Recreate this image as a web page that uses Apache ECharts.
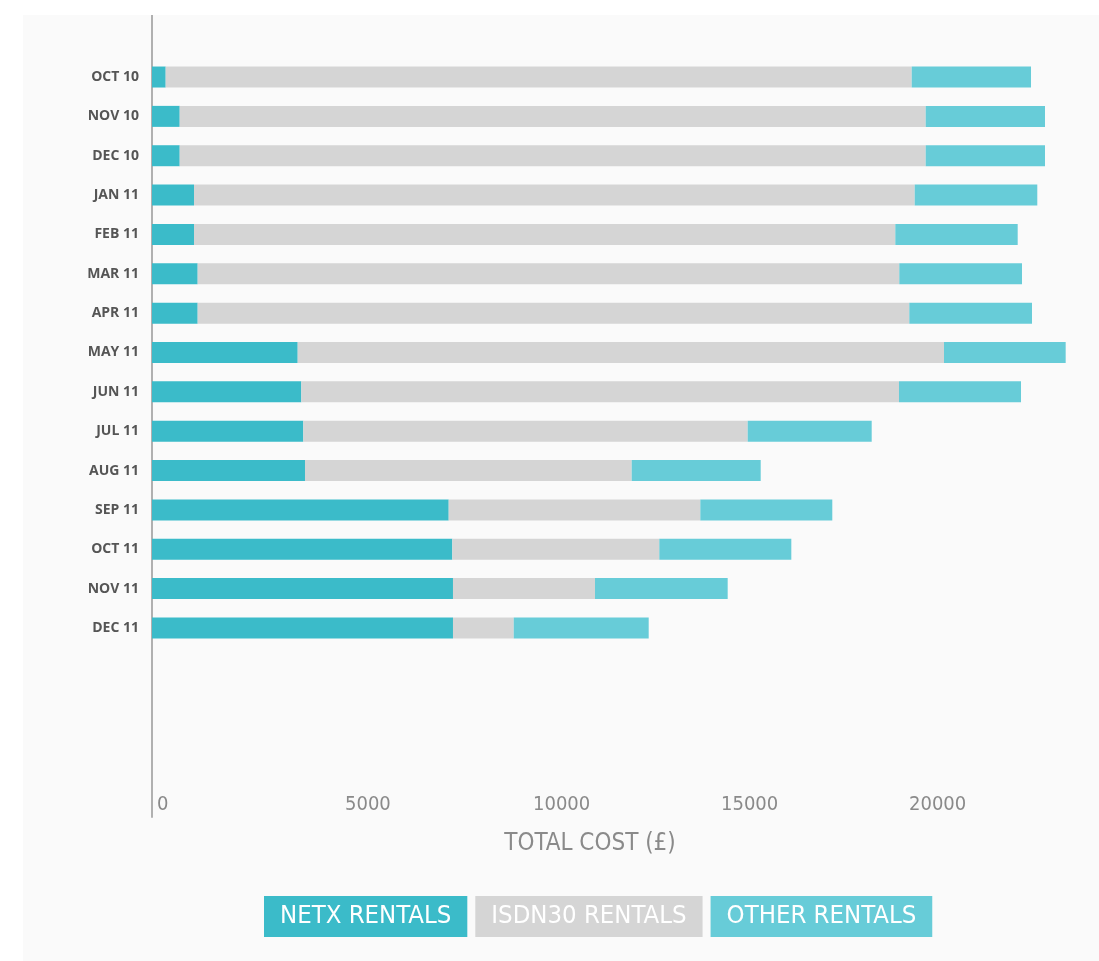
<!DOCTYPE html>
<html>
<head>
<meta charset="utf-8">
<script src="https://cdn.jsdelivr.net/npm/echarts@6/dist/echarts.min.js"></script>
<style>
  html, body { margin: 0; padding: 0; background: #ffffff; }
  #chart { position: absolute; left: 23px; top: 15px; width: 1076px; height: 946px; background: #fafafa; }
</style>
</head>
<body>
<div id="chart"></div>
<script>
const months = ['OCT 10','NOV 10','DEC 10','JAN 11','FEB 11','MAR 11','APR 11','MAY 11','JUN 11','JUL 11','AUG 11','SEP 11','OCT 11','NOV 11','DEC 11'];
const netxRentals  = [364, 737, 737, 1117, 1117, 1215, 1215, 3875, 3971, 4024, 4069, 7891, 7987, 8005, 8005];
const isdn30Rentals = [19841, 19840, 19840, 19168, 18652, 18660, 18926, 17189, 15896, 11819, 8689, 6692, 5505, 3777, 1615];
const otherRentals = [3173, 3173, 3173, 3260, 3255, 3263, 3263, 3236, 3245, 3298, 3431, 3510, 3511, 3529, 3590];
const seriesNames = ['NETX RENTALS', 'ISDN30 RENTALS', 'OTHER RENTALS'];
const colors = ['#3bbbc9', '#d5d5d5', '#67ccd8'];

const chart = echarts.init(document.getElementById('chart'), null, { renderer: 'canvas' });
const narrow = "'DejaVu Sans Condensed', 'Liberation Sans Narrow', 'Roboto Condensed', sans-serif";
const legendData = seriesNames.map((n, i) => ({
  name: n,
  textStyle: {
    backgroundColor: colors[i],
    color: '#ffffff',
    padding: [7, 16, 7, 16],
    fontSize: 25.5,
    lineHeight: 27,
    fontFamily: narrow
  }
}));

chart.setOption({
  animation: false,
  backgroundColor: '#fafafa',
  grid: [
    { left: 129, right: 7, top: 3, height: 787, containLabel: false },
    { left: 129, right: 7, top: 0, height: 802, containLabel: false }
  ],
  xAxis: [{
    type: 'value',
    gridIndex: 0,
    min: 0,
    max: 25000,
    interval: 5000,
    offset: 12,
    axisLine: { show: false },
    axisTick: { show: false },
    splitLine: { show: false },
    axisLabel: {
      inside: true,
      margin: 2,
      align: 'left',
      padding: [0, 0, 0, 5],
      color: '#8a8a8a',
      fontSize: 20,
      fontFamily: narrow,
      showMaxLabel: false,
      formatter: v => String(v)
    },
    name: 'TOTAL COST (£)',
    nameLocation: 'middle',
    nameGap: 15,
    nameTextStyle: {
      color: '#8a8a8a',
      fontSize: 24,
      fontFamily: narrow,
      verticalAlign: 'top',
      padding: [0, 64, 0, 0]
    }
  }, {
    type: 'value',
    gridIndex: 1,
    show: false
  }],
  yAxis: [{
    type: 'category',
    gridIndex: 0,
    data: months,
    inverse: true,
    min: -1,
    max: 18,
    axisLine: { show: false },
    axisTick: { show: false },
    splitLine: { show: false },
    axisLabel: {
      margin: 13,
      color: '#555555',
      fontSize: 14,
      fontWeight: 'bold',
      fontFamily: 'Open Sans',
      formatter: v => (v == null || v === 'undefined') ? '' : v
    }
  }, {
    type: 'value',
    gridIndex: 1,
    axisLine: { show: true, lineStyle: { color: '#b0b0b0', width: 2 } },
    axisTick: { show: false },
    axisLabel: { show: false },
    splitLine: { show: false }
  }],
  legend: {
    left: 231,
    top: 876,
    icon: 'none',
    itemWidth: 0,
    itemHeight: 0,
    itemGap: 3,
    selectedMode: false,
    data: legendData
  },
  tooltip: { show: false },
  series: [netxRentals, isdn30Rentals, otherRentals].map((d, i) => ({
    name: seriesNames[i],
    type: 'bar',
    stack: 'total',
    xAxisIndex: 0,
    yAxisIndex: 0,
    data: d,
    barWidth: 21,
    itemStyle: { color: colors[i] }
  }))
});
</script>
</body>
</html>
